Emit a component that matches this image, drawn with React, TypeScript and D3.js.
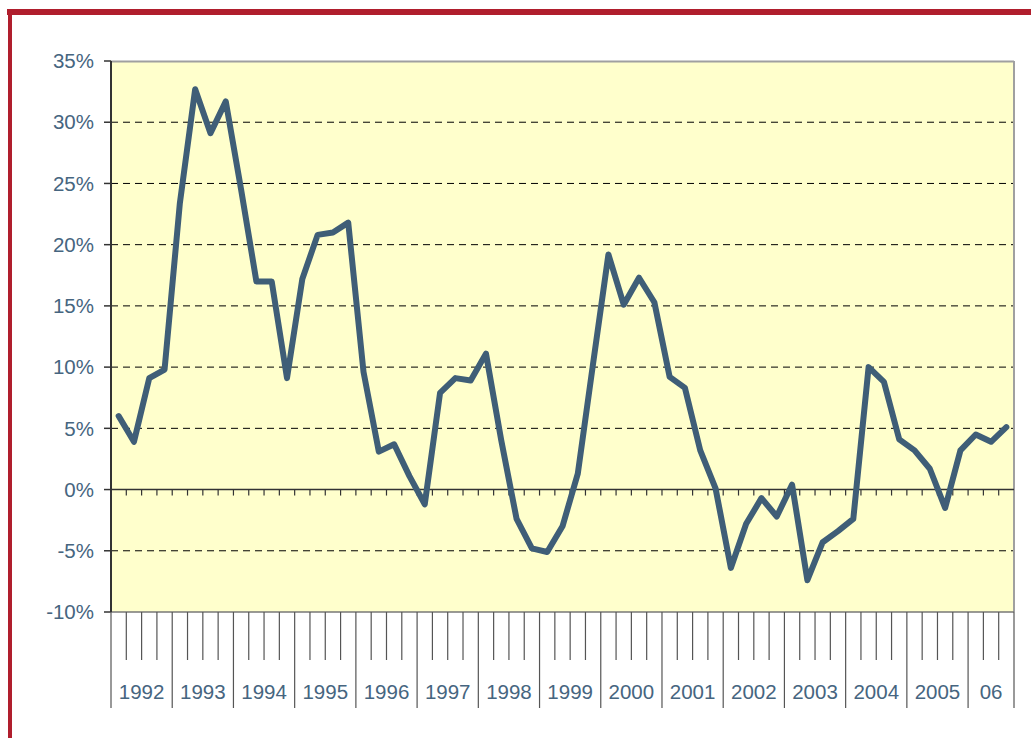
import React, { useEffect, useRef } from 'react';
import * as d3 from 'd3';

// quarterly growth, % (1992 Q1 .. 2006 Q3)
const years = [1992, 1993, 1994, 1995, 1996, 1997, 1998, 1999, 2000, 2001, 2002, 2003, 2004, 2005, 2006];
const yearLabels = ['1992', '1993', '1994', '1995', '1996', '1997', '1998', '1999', '2000', '2001', '2002', '2003', '2004', '2005', '06'];
const growth = [
  6.0, 3.9, 9.1, 9.8,
  23.4, 32.7, 29.1, 31.7,
  24.5, 17.0, 17.0, 9.1,
  17.2, 20.8, 21.0, 21.8,
  9.6, 3.1, 3.7, 1.1,
  -1.2, 7.9, 9.1, 8.9,
  11.1, 4.0, -2.4, -4.8,
  -5.1, -3.0, 1.3, 10.3,
  19.2, 15.1, 17.3, 15.3,
  9.2, 8.3, 3.2, 0.1,
  -6.4, -2.8, -0.7, -2.2,
  0.4, -7.4, -4.3, -3.4,
  -2.4, 10.0, 8.8, 4.1,
  3.2, 1.7, -1.5, 3.2,
  4.5, 3.9, 5.1,
];
const yTicks = [-10, -5, 0, 5, 10, 15, 20, 25, 30, 35];

const quarters = growth.map((_, i) => `${years[Math.floor(i / 4)]}Q${(i % 4) + 1}`);

export default function App() {
  const svgRef = useRef<SVGSVGElement>(null);

  useEffect(() => {
    if (!svgRef.current) return;
    const svg = d3.select(svgRef.current);
    svg.selectAll('*').remove();

    const width = 1031;
    const height = 738;
    const margin = { top: 61, right: 17, bottom: 126, left: 111 };
    const plotW = width - margin.left - margin.right;
    const plotH = height - margin.top - margin.bottom;
    const textColor = '#466580';
    const font = '"Liberation Sans", Arial, sans-serif';

    const x = d3.scaleBand().domain(quarters).range([0, plotW]).padding(0);
    const y = d3.scaleLinear().domain([-10, 35]).range([plotH, 0]);

    // red frame
    svg.append('rect').attr('x', 7).attr('y', 9).attr('width', width - 7).attr('height', 6).attr('fill', '#b01e2d');
    svg.append('rect').attr('x', 8).attr('y', 9).attr('width', 4).attr('height', height - 9).attr('fill', '#b01e2d');

    const g = svg.append('g').attr('transform', `translate(${margin.left},${margin.top})`);

    // plot background
    g.append('rect').attr('width', plotW).attr('height', plotH).attr('fill', '#ffffcc');

    // grid
    g.selectAll('.grid')
      .data(yTicks.filter(t => t !== 0 && t !== 35 && t !== -10))
      .enter().append('line')
      .attr('x1', 0).attr('x2', plotW)
      .attr('y1', d => y(d)).attr('y2', d => y(d))
      .attr('stroke', '#000').attr('stroke-width', 1)
      .attr('stroke-dasharray', '7,5');

    // plot border
    g.append('line').attr('x1', 0).attr('x2', plotW).attr('y1', 0.5).attr('y2', 0.5).attr('stroke', '#a0a0a0').attr('stroke-width', 2);
    g.append('line').attr('x1', plotW).attr('x2', plotW).attr('y1', 0).attr('y2', plotH).attr('stroke', '#a0a0a0').attr('stroke-width', 2);
    g.append('line').attr('x1', 0).attr('x2', plotW).attr('y1', plotH).attr('y2', plotH).attr('stroke', '#777').attr('stroke-width', 1.5);

    // y axis
    g.append('line').attr('x1', 0).attr('x2', 0).attr('y1', 0).attr('y2', plotH).attr('stroke', '#333').attr('stroke-width', 2);
    g.selectAll('.ytick')
      .data(yTicks)
      .enter().append('line')
      .attr('x1', -7).attr('x2', 0)
      .attr('y1', d => y(d)).attr('y2', d => y(d))
      .attr('stroke', '#333').attr('stroke-width', 1.5);
    g.selectAll('.ylabel')
      .data(yTicks)
      .enter().append('text')
      .attr('x', -17).attr('y', d => y(d))
      .attr('dy', '0.35em')
      .attr('text-anchor', 'end')
      .attr('font-family', font).attr('font-size', 20.5)
      .attr('fill', textColor)
      .text(d => `${d}%`);

    // zero line with small ticks
    g.append('line').attr('x1', 0).attr('x2', plotW).attr('y1', y(0)).attr('y2', y(0)).attr('stroke', '#333').attr('stroke-width', 1.5);
    g.selectAll('.ztick')
      .data(quarters.slice(1))
      .enter().append('line')
      .attr('x1', d => x(d)!).attr('x2', d => x(d)!)
      .attr('y1', y(0)).attr('y2', y(0) + 6)
      .attr('stroke', '#333').attr('stroke-width', 1.2);

    // category ticks below plot
    const bounds = quarters.map((q, i) => ({ pos: x(q)!, yearStart: i % 4 === 0 }));
    bounds.push({ pos: plotW, yearStart: true });
    g.selectAll('.xtick')
      .data(bounds)
      .enter().append('line')
      .attr('x1', d => d.pos).attr('x2', d => d.pos)
      .attr('y1', plotH).attr('y2', d => plotH + (d.yearStart ? 96 : 48))
      .attr('stroke', '#555').attr('stroke-width', 1.2);

    // year labels
    g.selectAll('.xlabel')
      .data(yearLabels)
      .enter().append('text')
      .attr('x', (d, i) => {
        const first = x(quarters[i * 4])!;
        const lastQ = quarters[Math.min(i * 4 + 3, quarters.length - 1)];
        const last = x(lastQ)! + x.bandwidth();
        return (first + last) / 2;
      })
      .attr('y', plotH + 80)
      .attr('dy', '0.35em')
      .attr('text-anchor', 'middle')
      .attr('font-family', font).attr('font-size', 20.5)
      .attr('fill', textColor)
      .text(d => d);

    // series
    const line = d3.line<number>()
      .x((d, i) => x(quarters[i])! + x.bandwidth() / 2)
      .y(d => y(d));
    g.append('path')
      .datum(growth)
      .attr('d', line)
      .attr('fill', 'none')
      .attr('stroke', '#3f5e77')
      .attr('stroke-width', 6)
      .attr('stroke-linejoin', 'round')
      .attr('stroke-linecap', 'round');
  }, []);

  return (
    <svg ref={svgRef} width={1031} height={738} style={{ position: 'absolute', top: 0, left: 0, background: '#fff' }} />
  );
}
